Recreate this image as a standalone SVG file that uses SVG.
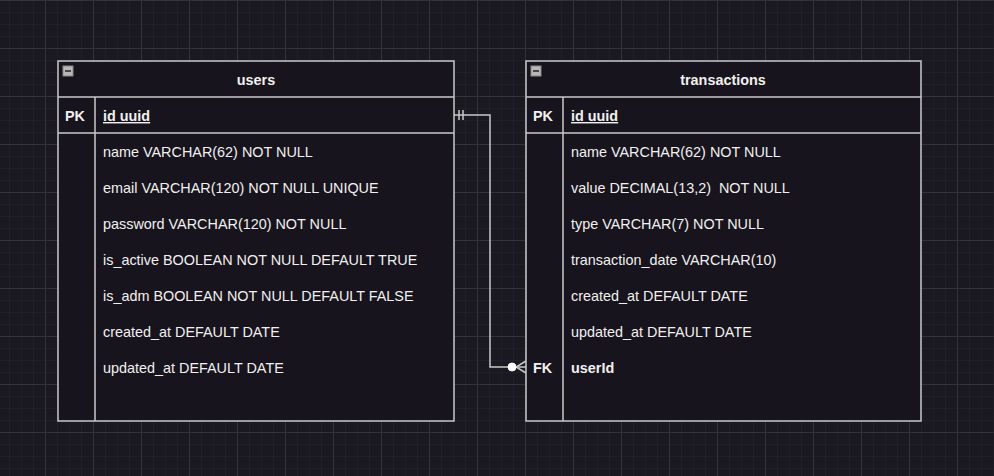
<svg xmlns="http://www.w3.org/2000/svg" width="994" height="476" viewBox="0 0 994 476">
<defs>
<pattern id="minor" width="12" height="12" patternUnits="userSpaceOnUse" x="-3" y="0">
<path d="M0 0H12M0 0V12" fill="none" stroke="#25232b" stroke-width="1"/>
</pattern>
<pattern id="major" width="48" height="48" patternUnits="userSpaceOnUse" x="-3" y="0">
<path d="M0 0.5H48M0.5 0V48" fill="none" stroke="#34333a" stroke-width="1"/>
</pattern>
</defs>
<style>
.box{fill:#18141d;stroke:#c8c8c8;stroke-width:1.5}
.ln{stroke:#c8c8c8;stroke-width:1.5;fill:none}
.t{font-family:"Liberation Sans",Arial,sans-serif;font-size:14.4px;fill:#f0f0f0}
.b{font-weight:bold}
.h{font-family:"Liberation Sans",Arial,sans-serif;font-size:14.4px;font-weight:bold;fill:#f0f0f0;text-anchor:middle}
.icon{fill:#b8b8b8;stroke:#888;stroke-width:1}
</style>
<rect width="994" height="476" fill="#1a1820"/>
<rect width="994" height="476" fill="url(#minor)"/>
<rect width="994" height="476" fill="url(#major)"/>
<g id="connectors">
<path class="ln" d="M454 115H490V367H526"/>
<path class="ln" d="M459 110V120M463 110V120"/>
<path class="ln" d="M526 361L516 367L526 373"/>
<circle cx="512" cy="367" r="4" fill="#ffffff" stroke="#ffffff"/>
</g>
<g id="users">
<rect class="box" x="58" y="61" width="396" height="360"/>
<rect class="icon" x="63" y="66" width="10" height="10"/>
<path d="M65 71H71" stroke="#222" stroke-width="1.5"/>
<text class="h" x="256" y="85">users</text>
<path class="ln" d="M58 97H454M58 133H454M95 97V421"/>
<text class="t b" x="65" y="121">PK</text>
<text class="t b" x="103" y="121" text-decoration="underline">id uuid</text>
<text class="t" x="103" y="157">name VARCHAR(62) NOT NULL</text>
<text class="t" x="103" y="193">email VARCHAR(120) NOT NULL UNIQUE</text>
<text class="t" x="103" y="229">password VARCHAR(120) NOT NULL</text>
<text class="t" x="103" y="265">is_active BOOLEAN NOT NULL DEFAULT TRUE</text>
<text class="t" x="103" y="301">is_adm BOOLEAN NOT NULL DEFAULT FALSE</text>
<text class="t" x="103" y="337">created_at DEFAULT DATE</text>
<text class="t" x="103" y="373">updated_at DEFAULT DATE</text>
</g>
<g id="transactions">
<rect class="box" x="526" y="61" width="395" height="360"/>
<rect class="icon" x="531" y="66" width="10" height="10"/>
<path d="M533 71H539" stroke="#222" stroke-width="1.5"/>
<text class="h" x="723" y="85">transactions</text>
<path class="ln" d="M526 97H921M526 133H921M563 97V421"/>
<text class="t b" x="533" y="121">PK</text>
<text class="t b" x="571" y="121" text-decoration="underline">id uuid</text>
<text class="t" x="571" y="157">name VARCHAR(62) NOT NULL</text>
<text class="t" x="571" y="193" xml:space="preserve">value DECIMAL(13,2)  NOT NULL</text>
<text class="t" x="571" y="229">type VARCHAR(7) NOT NULL</text>
<text class="t" x="571" y="265">transaction_date VARCHAR(10)</text>
<text class="t" x="571" y="301">created_at DEFAULT DATE</text>
<text class="t" x="571" y="337">updated_at DEFAULT DATE</text>
<text class="t b" x="533" y="373">FK</text>
<text class="t b" x="571" y="373">userId</text>
</g>
</svg>
